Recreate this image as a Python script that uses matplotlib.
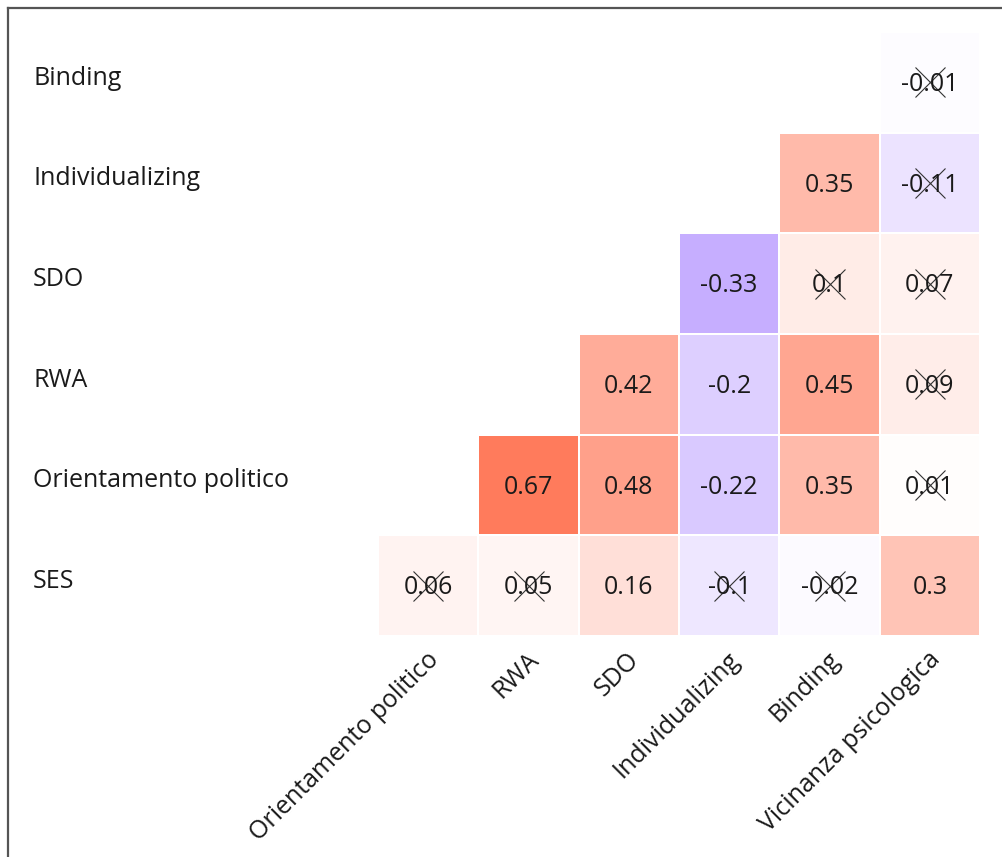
import numpy as np
import matplotlib
matplotlib.use("Agg")
import matplotlib.pyplot as plt
from matplotlib.colors import LinearSegmentedColormap
from matplotlib.transforms import blended_transform_factory
from matplotlib.lines import Line2D

row_labels = ["Binding", "Individualizing", "SDO", "RWA", "Orientamento politico", "SES"]
col_labels = ["Orientamento politico", "RWA", "SDO", "Individualizing", "Binding", "Vicinanza psicologica"]
nan = np.nan
values = np.array([
    [nan, nan, nan, nan, nan, -0.01],
    [nan, nan, nan, nan, 0.35, -0.11],
    [nan, nan, nan, -0.33, 0.10, 0.07],
    [nan, nan, 0.42, -0.20, 0.45, 0.09],
    [nan, 0.67, 0.48, -0.22, 0.35, 0.01],
    [0.06, 0.05, 0.16, -0.10, -0.02, 0.30],
])
value_text = [
    [None, None, None, None, None, "-0.01"],
    [None, None, None, None, "0.35", "-0.11"],
    [None, None, None, "-0.33", "0.1", "0.07"],
    [None, None, "0.42", "-0.2", "0.45", "0.09"],
    [None, "0.67", "0.48", "-0.22", "0.35", "0.01"],
    ["0.06", "0.05", "0.16", "-0.1", "-0.02", "0.3"],
]
not_significant = np.array([
    [0, 0, 0, 0, 0, 1],
    [0, 0, 0, 0, 0, 1],
    [0, 0, 0, 0, 1, 1],
    [0, 0, 0, 0, 0, 1],
    [0, 0, 0, 0, 0, 1],
    [1, 1, 0, 1, 1, 0],
], dtype=bool)

FONT = "Open Sans"
FS = 18
cmap = LinearSegmentedColormap.from_list(
    "div", [(0.0, "#550DFF"), (0.5, "#FFFFFF"), (1.0, "#FF3A0C")])

W, H = 1003, 857
fig = plt.figure(figsize=(W / 100, H / 100), dpi=100)
fig.patch.set_facecolor("white")

# frame lines
fig.add_artist(Line2D([8 / W, 8 / W], [0, 1 - 8 / H], transform=fig.transFigure,
                      color="#555555", lw=1.6))
fig.add_artist(Line2D([8 / W, 1], [1 - 8 / H, 1 - 8 / H], transform=fig.transFigure,
                      color="#555555", lw=1.6))

ax = fig.add_axes([378 / W, 1 - 636 / H, 602 / W, (636 - 32) / H])
nr, nc = values.shape
masked = np.ma.masked_invalid(values)
ax.pcolormesh(np.arange(nc + 1), np.arange(nr + 1), masked, cmap=cmap, vmin=-1, vmax=1,
              edgecolors="white", linewidth=0.3)
ax.set_xlim(0, nc)
ax.set_ylim(nr, 0)
ax.axis("off")

xs, ys = [], []
for i in range(nr):
    for j in range(nc):
        if value_text[i][j] is not None:
            ax.text(j + 0.5, i + 0.52, value_text[i][j], ha="center", va="center",
                    fontsize=FS, family=FONT, color="#1a1a1a")
            if not_significant[i, j]:
                xs.append(j + 0.5)
                ys.append(i + 0.5)
ax.plot(xs, ys, linestyle="none", marker="x", markersize=21, markeredgewidth=0.8,
        color="#333333")

tr = blended_transform_factory(fig.transFigure, ax.transData)
for i, lab in enumerate(row_labels):
    ax.text(33 / W, i + 0.46, lab, transform=tr, ha="left", va="center",
            fontsize=FS, family=FONT, color="#1a1a1a")

for j, lab in enumerate(col_labels):
    ax.text(j + 0.57, nr + 0.2, lab, ha="right", va="center", rotation=45,
            rotation_mode="anchor", fontsize=FS, family=FONT, color="#1a1a1a")

fig.savefig("out.png", dpi=100)
